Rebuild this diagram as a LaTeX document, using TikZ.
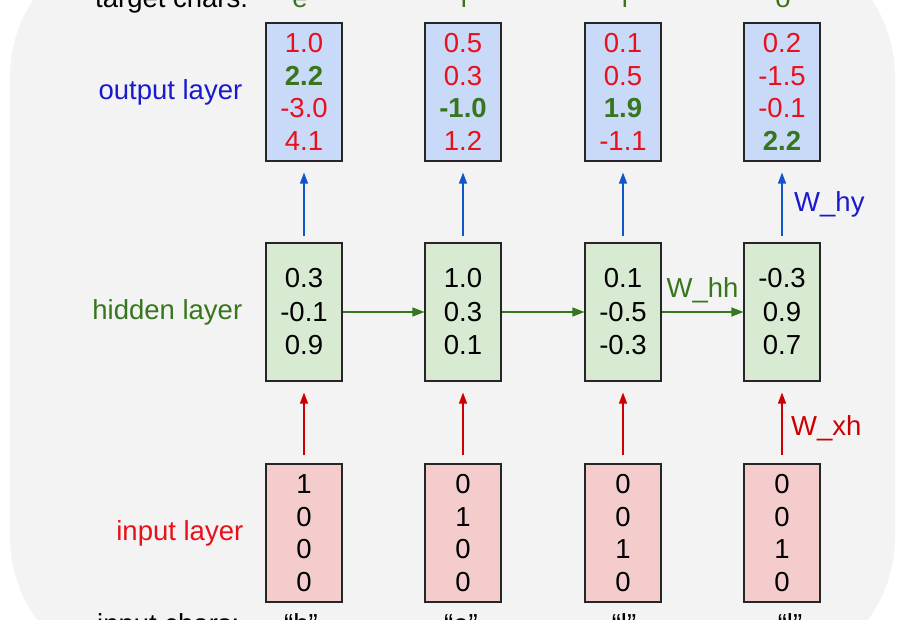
\documentclass[tikz,border=0pt]{standalone}
\usepackage{fontspec}
\setmainfont{Liberation Sans}
\usetikzlibrary{arrows.meta,positioning}
\definecolor{bggray}{HTML}{F3F3F3}
\definecolor{outfill}{HTML}{C9DAF8}
\definecolor{hidfill}{HTML}{D9EAD3}
\definecolor{infill}{HTML}{F4CCCC}
\definecolor{valred}{HTML}{E8101A}
\definecolor{valgreen}{HTML}{38761D}
\definecolor{labblue}{HTML}{1A1ACC}
\definecolor{arrblue}{HTML}{1155CC}
\definecolor{arrred}{HTML}{CC0000}
\newcommand{\hot}[1]{\textcolor{valgreen}{\textbf{#1}}}
\tikzset{
    vec/.style={draw=black!85,line width=1.1pt,minimum width=76pt,minimum height=138pt,inner sep=0pt,align=center},
    outvec/.style={vec,fill=outfill,text=valred},
    hidvec/.style={vec,fill=hidfill,font=\fontsize{27.5}{33.5}\selectfont},
    invec/.style={vec,fill=infill},
    recarrow/.style={-{Triangle[length=12pt,width=9pt]},line width=1.2pt,draw=valgreen},
    outarrow/.style={-{Triangle[length=11pt,width=8pt]},line width=1.2pt,draw=arrblue,shorten <=6pt,shorten >=11pt},
    inarrow/.style={-{Triangle[length=11pt,width=8pt]},line width=1.2pt,draw=arrred,shorten <=8pt,shorten >=11pt}
}

\begin{document}
\begin{tikzpicture}[x=1pt,y=-1pt,every node/.style={font=\fontsize{27.5}{32.5}\selectfont}]
    \useasboundingbox (0,0) rectangle (902,620);
    \fill[white] (0,0) rectangle (902,620);
    \fill[bggray,rounded corners=140pt] (10,-63) rectangle (895,677);
    % output layer
    \node[outvec] (o1) at (304,92) {1.0\\\hot{2.2}\\-3.0\\4.1};
    \node[outvec] (o2) at (463,92) {0.5\\0.3\\\hot{-1.0}\\1.2};
    \node[outvec] (o3) at (623,92) {0.1\\0.5\\\hot{1.9}\\-1.1};
    \node[outvec] (o4) at (782,92) {0.2\\-1.5\\-0.1\\\hot{2.2}};
    % hidden layer
    \node[hidvec] (h1) at (304,312) {0.3\\-0.1\\0.9};
    \node[hidvec] (h2) at (463,312) {1.0\\0.3\\0.1};
    \node[hidvec] (h3) at (623,312) {0.1\\-0.5\\-0.3};
    \node[hidvec] (h4) at (782,312) {-0.3\\0.9\\0.7};
    % input layer
    \node[invec] (x1) at (304,533) {1\\0\\0\\0};
    \node[invec] (x2) at (463,533) {0\\1\\0\\0};
    \node[invec] (x3) at (623,533) {0\\0\\1\\0};
    \node[invec] (x4) at (782,533) {0\\0\\1\\0};
    \draw[outarrow] (h1)--(o1); \draw[outarrow] (h2)--(o2); \draw[outarrow] (h3)--(o3); \draw[outarrow] (h4)--(o4);
    \draw[inarrow] (x1)--(h1); \draw[inarrow] (x2)--(h2); \draw[inarrow] (x3)--(h3); \draw[inarrow] (x4)--(h4);
    \draw[recarrow] (h1)--(h2); \draw[recarrow] (h2)--(h3);
    \draw[recarrow] (h3)--(h4) node[midway,anchor=base,yshift=14pt,text=valgreen] (whh) {W\_hh};
    \node[left=23pt of o1,inner sep=0pt,text=labblue] (outlab) {output layer};
    \node[left=23pt of h1,inner sep=0pt,text=valgreen] (hidlab) {hidden layer};
    \node[left=22pt of x1,inner sep=0pt,text=valred] (inlab) {input layer};
    \node[anchor=west,inner sep=0pt,text=labblue] (why) at (794,204) {W\_hy};
    \node[anchor=west,inner sep=0pt,text=arrred] (wxh) at (791,428) {W\_xh};
    % chars, cut off by the page edge
    \node[anchor=base west,inner sep=0pt] (tgtlab) at (95,8) {target chars:};
    \node[anchor=base,inner sep=0pt,text=valgreen] (t1) at (300,8) {“e”};
    \node[anchor=base,inner sep=0pt,text=valgreen] (t2) at (464,8) {“l”};
    \node[anchor=base,inner sep=0pt,text=valgreen] (t3) at (625,8) {“l”};
    \node[anchor=base,inner sep=0pt,text=valgreen] (t4) at (783,8) {“o”};
    \node[anchor=base west,inner sep=0pt] (inplab) at (97,633) {input chars:};
    \node[anchor=base,inner sep=0pt] (c1) at (301,633) {“h”};
    \node[anchor=base,inner sep=0pt] (c2) at (461,633) {“e”};
    \node[anchor=base,inner sep=0pt] (c3) at (624,633) {“l”};
    \node[anchor=base,inner sep=0pt] (c4) at (790,633) {“l”};
\end{tikzpicture}
\end{document}
